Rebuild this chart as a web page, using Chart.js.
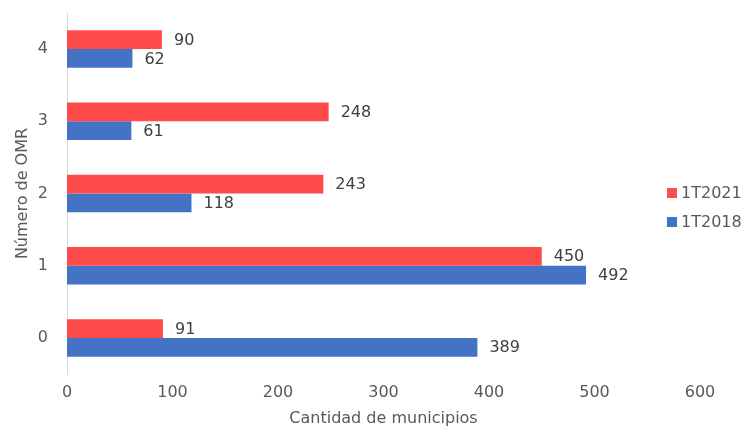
<!DOCTYPE html>
<html>
<head>
<meta charset="utf-8">
<script src="https://cdn.jsdelivr.net/npm/chart.js@4.4.0/dist/chart.umd.min.js"></script>
<style>
  body { margin: 0; background: #fff; }
  #wrap { position: relative; width: 742px; height: 428px; }
  #leyenda { position: absolute; left: 667px; top: 178px; font-family: "DejaVu Sans", sans-serif; font-size: 16px; color: #595959; }
  #leyenda div { height: 29px; display: flex; align-items: center; }
  #leyenda span.box { display: inline-block; width: 10px; height: 10px; margin-right: 4px; }
</style>
</head>
<body>
<div id="wrap">
  <canvas id="grafico" width="742" height="428"></canvas>
  <div id="leyenda"></div>
</div>
<script>
const categorias = ['4', '3', '2', '1', '0'];
const serie2021 = [90, 248, 243, 450, 91];
const serie2018 = [62, 61, 118, 492, 389];
const ticksX = [0, 100, 200, 300, 400, 500, 600];

const rojo = '#FF4B4B';
const azul = '#4472C4';
const fuente = '"DejaVu Sans", sans-serif';

// etiquetas de valor al final de cada barra
const etiquetas = {
  id: 'etiquetas',
  afterDatasetsDraw(chart) {
    const ctx = chart.ctx;
    ctx.save();
    ctx.font = '16px ' + fuente;
    ctx.fillStyle = '#404040';
    ctx.textBaseline = 'middle';
    ctx.textAlign = 'left';
    chart.data.datasets.forEach((ds, i) => {
      chart.getDatasetMeta(i).data.forEach((bar, j) => {
        ctx.fillText(ds.data[j], bar.x + 12, bar.y + 1);
      });
    });
    ctx.restore();
  }
};

const chart = new Chart(document.getElementById('grafico'), {
  type: 'bar',
  data: {
    labels: categorias,
    datasets: [
      { label: '1T2021', data: serie2021, backgroundColor: rojo },
      { label: '1T2018', data: serie2018, backgroundColor: azul }
    ]
  },
  options: {
    indexAxis: 'y',
    responsive: false,
    animation: false,
    categoryPercentage: 0.52,
    barPercentage: 1,
    layout: { padding: { top: 13, right: 42, left: 13, bottom: 0 } },
    plugins: {
      legend: { display: false },
      tooltip: { enabled: false }
    },
    scales: {
      x: {
        min: 0, max: 600,
        afterBuildTicks: s => { s.ticks = ticksX.map(v => ({ value: v })); },
        afterFit: s => { s.height = 54; s.paddingLeft = 0; s.paddingRight = 0; },
        grid: { display: false, drawTicks: false },
        border: { display: false },
        ticks: { color: '#595959', font: { family: fuente, size: 16 }, padding: 9 },
        title: { display: true, text: 'Cantidad de municipios', color: '#595959', font: { family: fuente, size: 16 }, padding: { top: 2, bottom: 0 } }
      },
      y: {
        afterFit: s => { s.width = 54; s.paddingTop = 0; s.paddingBottom = 0; },
        grid: { display: false },
        border: { display: true, color: '#D9D9D9', width: 1 },
        ticks: { color: '#595959', font: { family: fuente, size: 16 }, padding: 11 },
        title: { display: true, text: 'Número de OMR', color: '#595959', font: { family: fuente, size: 16 }, padding: 0 }
      }
    }
  },
  plugins: [etiquetas]
});

const leyenda = document.getElementById('leyenda');
chart.data.datasets.forEach(ds => {
  const fila = document.createElement('div');
  fila.innerHTML = '<span class="box" style="background:' + ds.backgroundColor + '"></span>' + ds.label;
  leyenda.appendChild(fila);
});
</script>
</body>
</html>
